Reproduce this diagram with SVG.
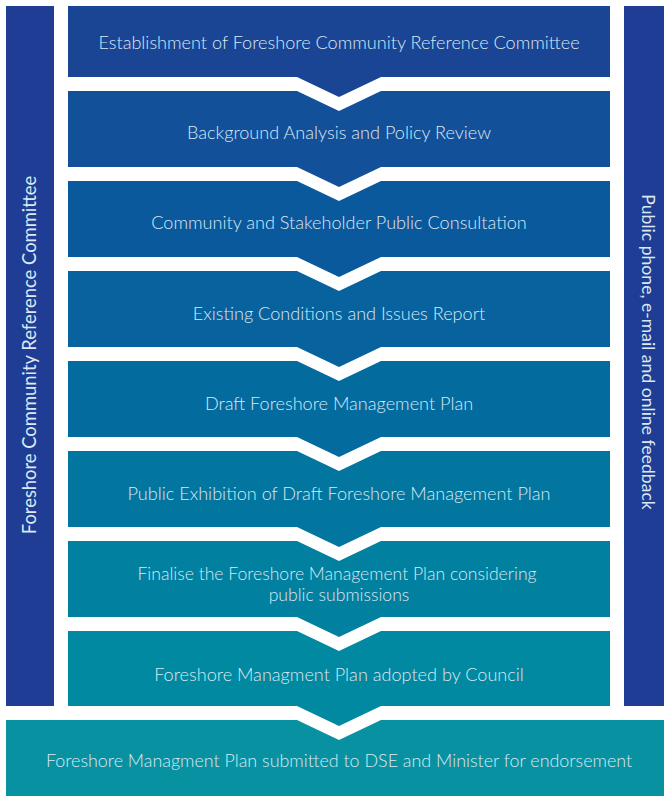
<svg xmlns="http://www.w3.org/2000/svg" width="664" height="796" viewBox="0 0 664 796">
<style>
.t{font-family:Lato,"Open Sans","Liberation Sans",sans-serif;font-size:18.1px;font-weight:300;fill:#dbe8f3;text-anchor:middle}
.s{font-family:Lato,"Open Sans","Liberation Sans",sans-serif;fill:#dbe8f3;text-anchor:middle}
</style>
<rect width="664" height="796" fill="#ffffff"/>
<g id="side-left">
<rect x="6" y="6" width="48" height="700" fill="#1f3d94"/>
<text class="s" font-size="18.4" transform="translate(36,355) rotate(-90)">Foreshore Community Reference Committee</text>
</g>
<g id="side-right">
<rect x="624" y="6" width="40" height="700" fill="#1f3d94"/>
<text class="s" font-size="17.6" transform="translate(642,352) rotate(90)">Public phone, e-mail and online feedback</text>
</g>
<g id="step1">
<path d="M68,6 H610 V77 H381 L339,97 L297,77 H68 Z" fill="#1a4595"/>
<text class="t" x="339" y="49">Establishment of Foreshore Community Reference Committee</text>
</g>
<g id="step2">
<path d="M68,91 H297 L339,111 L381,91 H610 V167 H381 L339,187 L297,167 H68 Z" fill="#13509a"/>
<text class="t" x="339" y="139">Background Analysis and Policy Review</text>
</g>
<g id="step3">
<path d="M68,181 H297 L339,201 L381,181 H610 V257 H381 L339,277 L297,257 H68 Z" fill="#0b599d"/>
<text class="t" x="339" y="229">Community and Stakeholder Public Consultation</text>
</g>
<g id="step4">
<path d="M68,271 H297 L339,291 L381,271 H610 V347 H381 L339,367 L297,347 H68 Z" fill="#07629e"/>
<text class="t" x="339" y="320">Existing Conditions and Issues Report</text>
</g>
<g id="step5">
<path d="M68,361 H297 L339,381 L381,361 H610 V437 H381 L339,457 L297,437 H68 Z" fill="#046b9f"/>
<text class="t" x="339" y="410">Draft Foreshore Management Plan</text>
</g>
<g id="step6">
<path d="M68,451 H297 L339,471 L381,451 H610 V527 H381 L339,547 L297,527 H68 Z" fill="#02769f"/>
<text class="t" x="339" y="500">Public Exhibition of Draft Foreshore Management Plan</text>
</g>
<g id="step7">
<path d="M68,541 H297 L339,561 L381,541 H610 V617 H381 L339,637 L297,617 H68 Z" fill="#01809f"/>
<text class="t" style="font-size:17.6px" x="337" y="580">Finalise the Foreshore Management Plan considering</text>
<text class="t" style="font-size:17.6px" x="339" y="601">public submissions</text>
</g>
<g id="step8">
<path d="M68,631 H297 L339,651 L381,631 H610 V706 H381 L339,726 L297,706 H68 Z" fill="#0089a0"/>
<text class="t" x="339" y="681">Foreshore Managment Plan adopted by Council</text>
</g>
<g id="step9">
<path d="M6,720 H297 L339,740 L381,720 H664 V796 H6 Z" fill="#0892a1"/>
<text class="t" style="font-size:17.9px" x="339" y="767">Foreshore Managment Plan submitted to DSE and Minister for endorsement</text>
</g>
<g id="connectors"></g>
</svg>
